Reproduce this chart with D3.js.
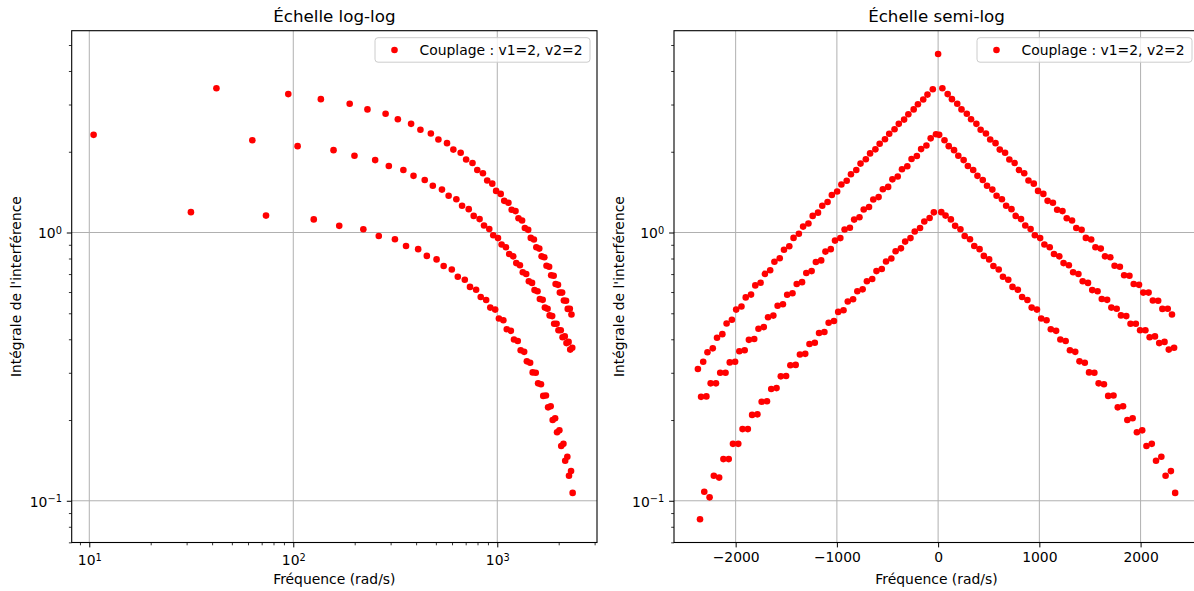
<!DOCTYPE html>
<html>
<head>
<meta charset="utf-8">
<script src="https://cdn.jsdelivr.net/npm/d3@7"></script>
<style>
  body { margin: 0; background: #fff; }
  svg { display: block; font-family: 'DejaVu Sans', 'Liberation Sans', sans-serif; }
</style>
</head>
<body>
<div id="chart"></div>
<script>
// ---- data ----
// fréquences négatives (rad/s, en valeur absolue puis signées plus bas) et positives
const freqHautNeg = [52.5, 105, 147, 199.5, 241.5, 294, 336, 388.5, 430.5, 483, 525, 577.5, 619.5, 672, 714, 766.5, 808.5, 861, 903, 955.5,
  997.5, 1050, 1092, 1144.5, 1186.5, 1239, 1281, 1333.5, 1375.5, 1428, 1470, 1522.5, 1564.5, 1617, 1659, 1711.5, 1753.5, 1806, 1848, 1900.5,
  1942.5, 1995, 2037, 2089.5, 2131.5, 2184, 2226, 2278.5, 2320.5, 2373];
const valHautNeg = [3.420, 3.266, 3.133, 3.006, 2.877, 2.761, 2.636, 2.541, 2.427, 2.333, 2.228, 2.143, 2.042, 1.972, 1.875, 1.807, 1.710, 1.648, 1.560, 1.510,
  1.422, 1.380, 1.300, 1.259, 1.186, 1.153, 1.081, 1.052, 0.989, 0.955, 0.889, 0.863, 0.802, 0.778, 0.723, 0.701, 0.650, 0.635, 0.587, 0.573,
  0.530, 0.516, 0.473, 0.458, 0.418, 0.405, 0.370, 0.358, 0.330, 0.310];
const freqHautPos = [42, 94.5, 136.5, 189, 231, 283.5, 325.5, 378, 420, 472.5, 514.5, 567, 609, 661.5, 703.5, 756, 798, 850.5, 892.5, 945,
  987, 1039.5, 1081.5, 1134, 1176, 1228.5, 1270.5, 1323, 1365, 1417.5, 1459.5, 1512, 1554, 1606.5, 1648.5, 1701, 1743, 1795.5, 1837.5, 1890,
  1932, 1984.5, 2026.5, 2079, 2121, 2173.5, 2215.5, 2268, 2310];
const valHautPos = [3.451, 3.281, 3.141, 3.020, 2.877, 2.773, 2.642, 2.541, 2.415, 2.339, 2.223, 2.153, 2.037, 1.982, 1.871, 1.816, 1.710, 1.663, 1.563, 1.521,
  1.429, 1.393, 1.312, 1.291, 1.216, 1.202, 1.130, 1.109, 1.040, 1.023, 0.955, 0.942, 0.881, 0.871, 0.815, 0.809, 0.752, 0.745, 0.693, 0.690,
  0.643, 0.638, 0.597, 0.597, 0.558, 0.557, 0.519, 0.520, 0.495];

const freqMilieuNeg = [21, 73.5, 115.5, 168, 210, 262.5, 304.5, 357, 399, 451.5, 493.5, 546, 588, 640.5, 682.5, 735, 777, 829.5, 871.5, 924,
  966, 1018.5, 1060.5, 1113, 1155, 1207.5, 1249.5, 1302, 1344, 1396.5, 1438.5, 1491, 1533, 1585.5, 1627.5, 1680, 1722, 1774.5, 1816.5, 1869,
  1911, 1963.5, 2005.5, 2058, 2100, 2152.5, 2194.5, 2247, 2289, 2341.5];
const valMilieuNeg = [2.323, 2.244, 2.109, 2.046, 1.928, 1.879, 1.766, 1.722, 1.618, 1.578, 1.479, 1.449, 1.355, 1.327, 1.245, 1.219, 1.140, 1.117, 1.042, 1.026,
  0.953, 0.933, 0.867, 0.849, 0.787, 0.776, 0.718, 0.706, 0.653, 0.643, 0.594, 0.586, 0.540, 0.533, 0.490, 0.483, 0.444, 0.438, 0.401, 0.398,
  0.364, 0.361, 0.330, 0.328, 0.300, 0.300, 0.274, 0.274, 0.245, 0.244];
const freqMilieuPos = [10.5, 63, 105, 157.5, 199.5, 252, 294, 346.5, 388.5, 441, 483, 535.5, 577.5, 630, 672, 724.5, 766.5, 819, 861, 913.5,
  955.5, 1008, 1050, 1102.5, 1144.5, 1197, 1239, 1291.5, 1333.5, 1386, 1428, 1480.5, 1522.5, 1575, 1617, 1669.5, 1711.5, 1764, 1806, 1858.5,
  1900.5, 1953, 1995, 2047.5, 2089.5, 2142, 2184, 2236.5, 2278.5, 2331];
const valMilieuPos = [2.312, 2.208, 2.099, 2.028, 1.932, 1.862, 1.770, 1.710, 1.626, 1.570, 1.493, 1.445, 1.371, 1.330, 1.259, 1.222, 1.153, 1.122, 1.062, 1.030,
  0.977, 0.953, 0.902, 0.881, 0.832, 0.815, 0.769, 0.755, 0.711, 0.700, 0.658, 0.649, 0.610, 0.604, 0.565, 0.561, 0.525, 0.520, 0.491, 0.488,
  0.457, 0.457, 0.432, 0.432, 0.407, 0.410, 0.387, 0.391, 0.366, 0.372];

const freqBasNeg = [42, 84, 136.5, 178.5, 231, 273, 325.5, 367.5, 420, 462, 514.5, 556.5, 609, 651, 703.5, 745.5, 798, 840, 892.5, 934.5,
  987, 1029, 1081.5, 1123.5, 1176, 1218, 1270.5, 1312.5, 1365, 1407, 1459.5, 1501.5, 1554, 1596, 1648.5, 1690.5, 1743, 1785, 1837.5, 1879.5,
  1932, 1974, 2026.5, 2068.5, 2121, 2163, 2215.5, 2257.5, 2310, 2352];
const valBasNeg = [1.189, 1.132, 1.099, 1.040, 1.009, 0.953, 0.925, 0.873, 0.851, 0.800, 0.780, 0.731, 0.718, 0.671, 0.658, 0.614, 0.604, 0.564, 0.553, 0.513,
  0.506, 0.468, 0.461, 0.426, 0.422, 0.388, 0.384, 0.353, 0.351, 0.321, 0.320, 0.292, 0.291, 0.263, 0.261, 0.235, 0.234, 0.210, 0.209, 0.185,
  0.185, 0.163, 0.163, 0.143, 0.143, 0.122, 0.124, 0.103, 0.108, 0.0853];
const freqBasPos = [31.5, 73.5, 126, 168, 220.5, 262.5, 315, 357, 409.5, 451.5, 504, 546, 598.5, 640.5, 693, 735, 787.5, 829.5, 882, 924,
  976.5, 1018.5, 1071, 1113, 1165.5, 1207.5, 1260, 1302, 1354.5, 1396.5, 1449, 1491, 1543.5, 1585.5, 1638, 1680, 1732.5, 1774.5, 1827, 1869,
  1921.5, 1963.5, 2016, 2058, 2110.5, 2152.5, 2205, 2247, 2299.5, 2341.5];
const valBasPos = [1.191, 1.156, 1.119, 1.059, 1.028, 0.971, 0.944, 0.891, 0.867, 0.818, 0.794, 0.750, 0.728, 0.684, 0.667, 0.627, 0.612, 0.575, 0.560, 0.525,
  0.516, 0.478, 0.471, 0.436, 0.430, 0.399, 0.394, 0.364, 0.359, 0.331, 0.327, 0.301, 0.300, 0.274, 0.272, 0.246, 0.247, 0.223, 0.225, 0.200,
  0.203, 0.180, 0.183, 0.160, 0.163, 0.141, 0.146, 0.124, 0.129, 0.107];

const freqCentre = [0];
const valCentre = [4.63];

const legendLabel = 'Couplage : v1=2, v2=2';
const linTicks = [-2000, -1000, 0, 1000, 2000];
const logXTicks = [10, 100, 1000];
const logXExp = ['1', '2', '3'];
const logYTicks = [0.1, 1];
const logYExp = ['\u22121', '0'];

// ---- points ----
let points = [];
[[freqHautNeg, valHautNeg, -1], [freqHautPos, valHautPos, 1],
 [freqMilieuNeg, valMilieuNeg, -1], [freqMilieuPos, valMilieuPos, 1],
 [freqBasNeg, valBasNeg, -1], [freqBasPos, valBasPos, 1],
 [freqCentre, valCentre, 1]].forEach(([fs, vs, s]) => {
  fs.forEach((f, i) => points.push({ f: s * f, v: vs[i] }));
});

// ---- layout ----
const W = 1194, H = 591;
const yTop = 30.7, yBot = 542.5;
const RED = '#ff0000';

const svg = d3.select('#chart').append('svg')
  .attr('width', W).attr('height', H);

const y = d3.scaleLog().domain([0.0699, 5.653]).range([yBot, yTop]);

let yMinor = [];
[0.01, 0.1, 1].forEach(dec => { for (let k = 2; k <= 9; k++) yMinor.push(k * dec); });
yMinor = yMinor.filter(v => v >= 0.0699 && v <= 5.653);

function supText(sel, exps, extraDy) {
  sel.each(function (d, i) {
    const t = d3.select(this);
    t.text(null);
    t.append('tspan').text('10');
    t.append('tspan').attr('dy', '-0.45em').attr('font-size', '9.8px').text(exps[i]);
    if (extraDy) t.attr('y', +t.attr('y') + extraDy);
  });
}

function panel(cfg) {
  const g = svg.append('g');
  const x = cfg.x;
  const [x0, x1] = x.range();

  // grid
  g.append('g').selectAll('line').data(cfg.xTicks).join('line')
    .attr('x1', d => x(d)).attr('x2', d => x(d))
    .attr('y1', yTop).attr('y2', yBot)
    .attr('stroke', '#b0b0b0').attr('stroke-width', 1);
  g.append('g').selectAll('line').data(logYTicks).join('line')
    .attr('x1', x0).attr('x2', x1)
    .attr('y1', d => y(d)).attr('y2', d => y(d))
    .attr('stroke', '#b0b0b0').attr('stroke-width', 1);

  // points
  g.append('g').selectAll('circle').data(points.filter(cfg.keep)).join('circle')
    .attr('cx', d => x(d.f)).attr('cy', d => y(d.v))
    .attr('r', 3.3).attr('fill', RED);

  // frame
  g.append('rect')
    .attr('x', x0).attr('y', yTop).attr('width', x1 - x0).attr('height', yBot - yTop)
    .attr('fill', 'none').attr('stroke', '#000').attr('stroke-width', 1.1);

  // x axis
  const xa = g.append('g').attr('transform', `translate(0,${yBot})`)
    .call(d3.axisBottom(x).tickValues(cfg.xTicks).tickSize(4.9).tickPadding(4.9)
      .tickSizeOuter(0).tickFormat(cfg.xFormat || (() => '')));
  xa.select('.domain').remove();
  xa.selectAll('text').attr('font-size', '13.9px').attr('fill', '#000')
    .attr('font-family', "'DejaVu Sans', sans-serif");
  if (cfg.xExp) supText(xa.selectAll('text'), cfg.xExp, 3);
  if (cfg.xMinor) {
    const xm = g.append('g').attr('transform', `translate(0,${yBot})`)
      .call(d3.axisBottom(x).tickValues(cfg.xMinor).tickSize(2.8).tickFormat(() => ''));
    xm.select('.domain').remove();
    xm.selectAll('line').attr('stroke-width', 0.8);
  }

  // y axis
  const ya = g.append('g').attr('transform', `translate(${x0},0)`)
    .call(d3.axisLeft(y).tickValues(logYTicks).tickSize(4.9).tickPadding(4.9)
      .tickSizeOuter(0).tickFormat(() => ''));
  ya.select('.domain').remove();
  ya.selectAll('text').attr('font-size', '13.9px').attr('fill', '#000')
    .attr('font-family', "'DejaVu Sans', sans-serif");
  supText(ya.selectAll('text'), logYExp, 1);
  const ym = g.append('g').attr('transform', `translate(${x0},0)`)
    .call(d3.axisLeft(y).tickValues(yMinor).tickSize(2.8).tickFormat(() => ''));
  ym.select('.domain').remove();
  ym.selectAll('line').attr('stroke-width', 0.8);

  // labels
  g.append('text').attr('x', (x0 + x1) / 2).attr('y', 22.4)
    .attr('text-anchor', 'middle').attr('font-size', '16.7px').text(cfg.title);
  g.append('text').attr('x', (x0 + x1) / 2).attr('y', 584)
    .attr('text-anchor', 'middle').attr('font-size', '13.9px').text('Fréquence (rad/s)');
  g.append('text')
    .attr('transform', `translate(${cfg.ylabX},${(yTop + yBot) / 2}) rotate(-90)`)
    .attr('text-anchor', 'middle').attr('font-size', '13.9px')
    .text("Intégrale de l'interférence");

  // legend
  const lw = 215, lh = 24.5;
  const lx = x1 - 7 - lw, ly = yTop + 7;
  const lg = g.append('g');
  lg.append('rect').attr('x', lx).attr('y', ly).attr('width', lw).attr('height', lh)
    .attr('rx', 3).attr('fill', '#fff').attr('fill-opacity', 0.8)
    .attr('stroke', '#cccccc').attr('stroke-width', 1);
  lg.append('circle').attr('cx', lx + 19.5).attr('cy', ly + lh / 2).attr('r', 3.3).attr('fill', RED);
  lg.append('text').attr('x', lx + 44.5).attr('y', ly + lh / 2 + 5)
    .attr('font-size', '13.9px').text(legendLabel);
}

let xMinorLog = [];
[1, 10, 100, 1000].forEach(dec => { for (let k = 2; k <= 9; k++) xMinorLog.push(k * dec); });
xMinorLog = xMinorLog.filter(v => v >= 8.2 && v <= 3082);

panel({
  title: 'Échelle log-log',
  x: d3.scaleLog().domain([8.2, 3082]).range([71.7, 597]),
  xTicks: logXTicks,
  xExp: logXExp,
  xMinor: xMinorLog,
  keep: d => d.f > 0,
  ylabX: 21
});

panel({
  title: 'Échelle semi-log',
  x: d3.scaleLinear().domain([-2609, 2577]).range([674, 1199]),
  xTicks: linTicks,
  xFormat: d => (d < 0 ? '\u2212' + Math.abs(d) : String(d)),
  keep: () => true,
  ylabX: 623.5
});
</script>
</body>
</html>
